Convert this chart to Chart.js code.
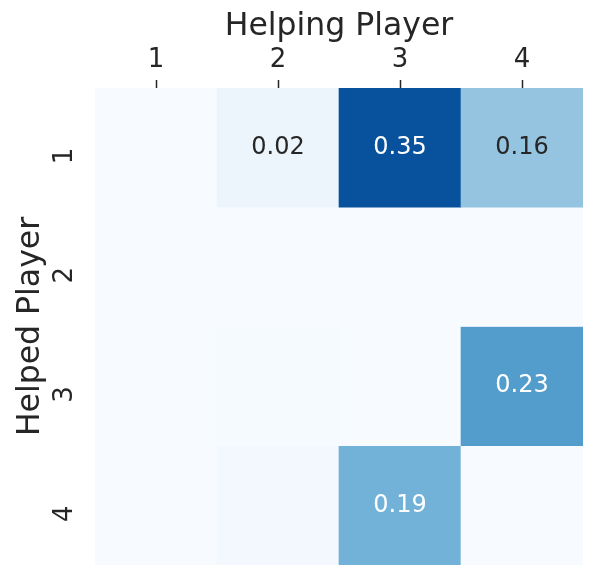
<!DOCTYPE html>
<html>
<head>
<meta charset="utf-8">
<script src="https://cdn.jsdelivr.net/npm/chart.js@4.4.1/dist/chart.umd.min.js"></script>
<style>
html,body{margin:0;padding:0;background:#fff;}
#wrap{width:607px;height:588px;position:relative;}
</style>
</head>
<body>
<div id="wrap"><canvas id="c"></canvas></div>
<script>
const helpingPlayers = ['1','2','3','4'];
const helpedPlayers = ['1','2','3','4'];
const helped1 = [0, 0.02, 0.35, 0.16];
const helped2 = [0, 0, 0, 0];
const helped3 = [0, 0.004, 0, 0.23];
const helped4 = [0, 0.008, 0.193, 0];
const rows = [helped1, helped2, helped3, helped4];
const vmax = 0.4;

const bluesStops = ['#f7fbff','#deebf7','#c6dbef','#9ecae1','#6baed6','#4292c6','#2171b5','#08519c','#08306b'];
function hexToRgb(h){return [parseInt(h.substr(1,2),16),parseInt(h.substr(3,2),16),parseInt(h.substr(5,2),16)];}
function blues(v){
  let t = Math.max(0, Math.min(1, v / vmax)) * (bluesStops.length - 1);
  const i = Math.min(Math.floor(t), bluesStops.length - 2);
  const f = t - i;
  const a = hexToRgb(bluesStops[i]), b = hexToRgb(bluesStops[i+1]);
  const c = a.map((x,k)=>Math.round(x + (b[k]-x)*f));
  return 'rgb(' + c.join(',') + ')';
}
function lum(v){
  const m = blues(v).match(/\d+/g).map(Number).map(x=>{x/=255;return x<=0.03928?x/12.92:Math.pow((x+0.055)/1.055,2.4);});
  return 0.2126*m[0]+0.7152*m[1]+0.0722*m[2];
}

const datasets = rows.map((vals, r) => ({
  label: helpedPlayers[r],
  data: vals.map(() => [r, r + 1]),
  values: vals,
  backgroundColor: vals.map(blues),
  borderColor: vals.map(blues),
  borderWidth: 0,
  grouped: false,
  barPercentage: 1,
  categoryPercentage: 1
}));

const annot = {
  id: 'annot',
  afterDatasetsDraw(chart) {
    const ctx = chart.ctx;
    ctx.save();
    ctx.font = '24px "DejaVu Sans"';
    ctx.textAlign = 'center';
    ctx.textBaseline = 'middle';
    chart.data.datasets.forEach((ds, di) => {
      chart.getDatasetMeta(di).data.forEach((el, i) => {
        const v = ds.values[i];
        if (v < 0.015) return;
        ctx.fillStyle = lum(v) > 0.408 ? '#262626' : '#ffffff';
        ctx.fillText(v.toFixed(2), el.x, (el.y + el.base) / 2);
      });
    });
    ctx.restore();
  }
};

function zeroPad(s){ s.paddingTop = 0; s.paddingBottom = 0; s.paddingLeft = 0; s.paddingRight = 0; }

new Chart(document.getElementById('c'), {
  type: 'bar',
  data: { labels: helpingPlayers, datasets },
  plugins: [annot],
  options: {
    responsive: true,
    maintainAspectRatio: false,
    animation: false,
    devicePixelRatio: 1,
    layout: { padding: { left: 0, right: 24, top: 0, bottom: 23 } },
    plugins: { legend: { display: false }, tooltip: { enabled: false } },
    scales: {
      x: {
        position: 'top',
        offset: true,
        grid: { display: true, drawOnChartArea: false, drawTicks: true, tickLength: 8, tickWidth: 1.5, tickColor: '#262626', offset: false },
        border: { display: false },
        ticks: { color: '#262626', font: { family: 'DejaVu Sans', size: 26 }, padding: 4, maxRotation: 0 },
        title: { display: true, text: 'Helping Player', color: '#262626', font: { family: 'DejaVu Sans', size: 31.5 }, padding: { top: 8, bottom: 0 } },
        afterFit(s) { s.height = 88; zeroPad(s); }
      },
      y: {
        type: 'linear',
        min: 0, max: 4,
        reverse: true,
        grid: { display: false },
        border: { display: false },
        afterBuildTicks(s) { s.ticks = [0.5, 1.5, 2.5, 3.5].map(v => ({ value: v })); },
        ticks: {
          color: '#262626', font: { family: 'DejaVu Sans', size: 26 }, padding: 22,
          minRotation: 90, maxRotation: 90,
          callback: (v) => helpedPlayers[Math.floor(v)]
        },
        title: { display: true, text: 'Helped Player', color: '#262626', font: { family: 'DejaVu Sans', size: 31.5 }, padding: { top: 12, bottom: 0 } },
        afterFit(s) { s.width = 95; zeroPad(s); }
      }
    }
  }
});
</script>
</body>
</html>
